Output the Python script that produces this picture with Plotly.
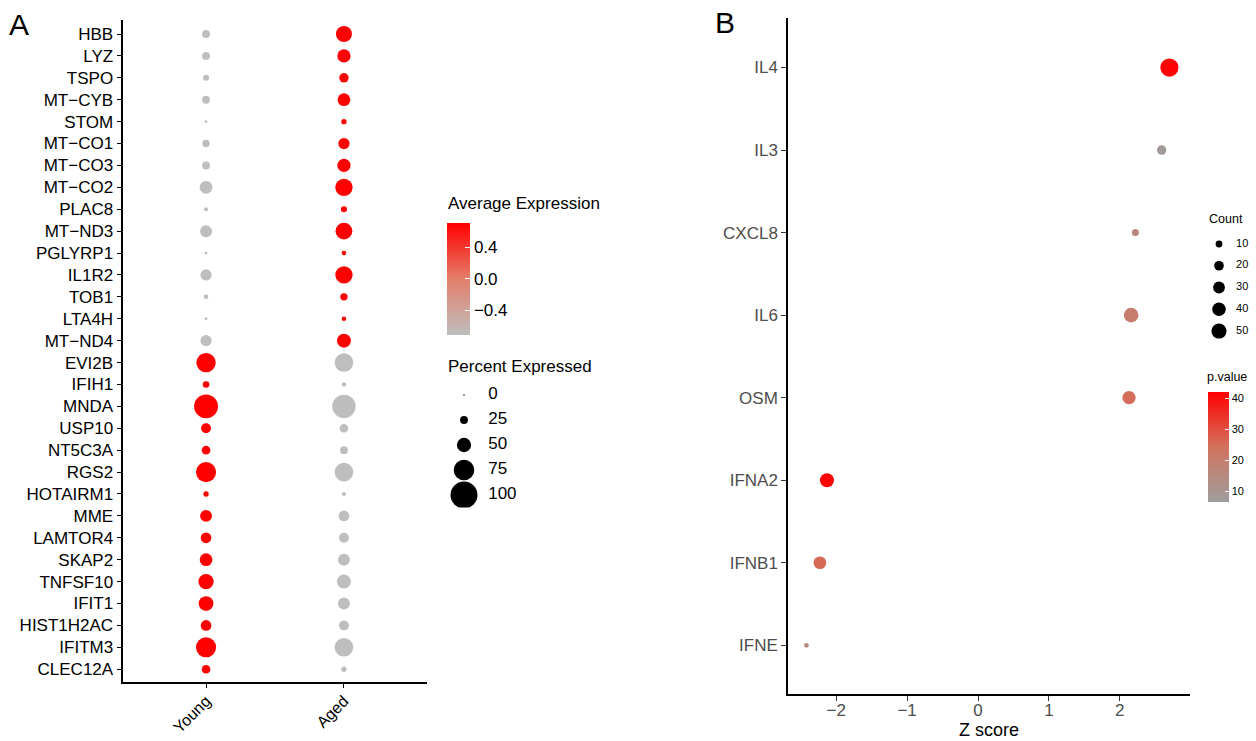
import plotly.graph_objects as go

# ---------------- Panel A data ----------------
genes = ["HBB", "LYZ", "TSPO", "MT\u2212CYB", "STOM", "MT\u2212CO1", "MT\u2212CO3", "MT\u2212CO2",
         "PLAC8", "MT\u2212ND3", "PGLYRP1", "IL1R2", "TOB1", "LTA4H", "MT\u2212ND4",
         "EVI2B", "IFIH1", "MNDA", "USP10", "NT5C3A", "RGS2", "HOTAIRM1", "MME",
         "LAMTOR4", "SKAP2", "TNFSF10", "IFIT1", "HIST1H2AC", "IFITM3", "CLEC12A"]
groups = ["Young", "Aged"]
pct_young = [25, 25, 18, 25, 5, 23, 25, 44, 10, 41, 5, 38, 12, 5, 38,
             70, 20, 88, 33, 28, 73, 15, 41, 36, 44, 54, 52, 36, 73, 28]
pct_aged = [57, 46, 31, 44, 15, 38, 46, 62, 18, 60, 12, 62, 23, 12, 49,
            67, 12, 86, 28, 25, 67, 10, 36, 33, 41, 49, 41, 33, 67, 15]
avg_young = [-0.707, -0.707, -0.707, -0.707, -0.707, -0.707, -0.707, -0.707, -0.707, -0.707,
             -0.707, -0.707, -0.707, -0.707, -0.707,
             0.707, 0.707, 0.707, 0.707, 0.707, 0.707, 0.707, 0.707, 0.707, 0.707,
             0.707, 0.707, 0.707, 0.707, 0.707]
avg_aged = [0.707, 0.707, 0.707, 0.707, 0.707, 0.707, 0.707, 0.707, 0.707, 0.707,
            0.707, 0.707, 0.707, 0.707, 0.707,
            -0.707, -0.707, -0.707, -0.707, -0.707, -0.707, -0.707, -0.707, -0.707, -0.707,
            -0.707, -0.707, -0.707, -0.707, -0.707]
pct_legend = [0, 25, 50, 75, 100]
avg_ticks = [-0.4, 0.0, 0.4]
avg_ticktext = ["\u22120.4", "0.0", "0.4"]

# ---------------- Panel B data ----------------
pathways = ["IL4", "IL3", "CXCL8", "IL6", "OSM", "IFNA2", "IFNB1", "IFNE"]
zscore = [2.70, 2.59, 2.22, 2.16, 2.13, -2.13, -2.23, -2.42]
count = [72, 19, 11, 46, 38, 42, 35, 5]
pvalue = [41.5, 8, 16, 20, 25, 41, 26, 15]
count_legend = [10, 20, 30, 40, 50]
p_ticks = [10, 20, 30, 40]
z_ticks = [-2, -1, 0, 1, 2]

W, H = 1256, 741
FONT = "Liberation Sans, Arial, sans-serif"


def pct_size(p):
    return 1.5 + 0.255 * p


def count_size(c):
    return 2.15 * c ** 0.5


def px(x):
    return x / W


def py(y):
    return 1 - y / H


scale_a = [[0, "#BEBEBE"], [0.5, "#E47E6A"], [1, "#FF0000"]]
scale_b = [[0, "#9E9E9E"], [0.5, "#D2735E"], [1, "#FF0000"]]

fig = go.Figure()

# Panel A dots
for g, pcts, avgs in [("Young", pct_young, avg_young), ("Aged", pct_aged, avg_aged)]:
    fig.add_trace(go.Scatter(
        x=[g] * len(genes), y=genes, mode="markers", xaxis="x", yaxis="y",
        showlegend=False, hoverinfo="skip",
        marker=dict(size=[pct_size(p) for p in pcts], sizemode="diameter", opacity=1,
                    color=avgs, colorscale=scale_a, cmin=-0.707, cmax=0.707,
                    line=dict(width=0),
                    showscale=(g == "Young"),
                    colorbar=dict(x=px(447), xanchor="left", y=py(222.7), yanchor="top",
                                  lenmode="pixels", len=112, thicknessmode="pixels",
                                  thickness=23, xpad=0, ypad=0, outlinewidth=0,
                                  tickvals=avg_ticks, ticktext=avg_ticktext,
                                  ticks="inside", ticklen=5, tickcolor="white",
                                  tickfont=dict(size=17, color="black", family=FONT))),
    ))

# Percent expressed legend
fig.add_trace(go.Scatter(
    x=[0] * len(pct_legend), y=[str(v) for v in pct_legend], mode="markers",
    xaxis="x3", yaxis="y3", showlegend=False, hoverinfo="skip",
    marker=dict(size=[pct_size(p) for p in pct_legend], sizemode="diameter", opacity=1,
                color="black", line=dict(width=0))))
fig.add_trace(go.Scatter(
    x=[0.93] * len(pct_legend), y=[str(v) for v in pct_legend], mode="text",
    text=[str(v) for v in pct_legend], textposition="middle right",
    textfont=dict(size=17, color="black", family=FONT),
    xaxis="x3", yaxis="y3", showlegend=False, hoverinfo="skip"))

# Panel B dots
fig.add_trace(go.Scatter(
    x=zscore, y=pathways, mode="markers", xaxis="x2", yaxis="y2",
    showlegend=False, hoverinfo="skip",
    marker=dict(size=[count_size(c) for c in count], sizemode="diameter", opacity=1,
                color=pvalue, colorscale=scale_b, cmin=6.5, cmax=42,
                line=dict(width=0), showscale=True,
                colorbar=dict(x=px(1208), xanchor="left", y=py(392), yanchor="top",
                              lenmode="pixels", len=110, thicknessmode="pixels",
                              thickness=21, xpad=0, ypad=0, outlinewidth=0,
                              tickvals=p_ticks, ticks="inside", ticklen=4,
                              tickcolor="white",
                              tickfont=dict(size=11, color="black", family=FONT))),
))

# Count legend
fig.add_trace(go.Scatter(
    x=[0] * len(count_legend), y=[str(v) for v in count_legend], mode="markers",
    xaxis="x4", yaxis="y4", showlegend=False, hoverinfo="skip",
    marker=dict(size=[count_size(c) for c in count_legend], sizemode="diameter", opacity=1,
                color="black", line=dict(width=0))))
fig.add_trace(go.Scatter(
    x=[0.9] * len(count_legend), y=[str(v) for v in count_legend], mode="text",
    text=[str(v) for v in count_legend], textposition="middle right",
    textfont=dict(size=11, color="black", family=FONT),
    xaxis="x4", yaxis="y4", showlegend=False, hoverinfo="skip"))

hidden = dict(visible=False, showgrid=False, zeroline=False)

fig.update_layout(
    width=W, height=H, margin=dict(l=0, r=0, t=0, b=0, autoexpand=False),
    paper_bgcolor="white", plot_bgcolor="white",
    font=dict(family=FONT, color="black"),
    xaxis=dict(domain=[px(123.3), px(426.7)], type="category", categoryorder="array",
               categoryarray=groups, range=[-0.6, 1.6], showline=True, linecolor="black",
               linewidth=1.5, ticks="outside", ticklen=5, tickcolor="black",
               tickangle=-45, tickfont=dict(size=16, color="black"), automargin=False,
               ticklabelstandoff=-3,
               showgrid=False, zeroline=False, anchor="y"),
    yaxis=dict(domain=[py(681.7), py(20)], type="category", categoryorder="array",
               categoryarray=genes, range=[29.57, -0.64], showline=True,
               linecolor="black", linewidth=1.5, ticks="outside", ticklen=5,
               tickcolor="black", tickfont=dict(size=17, color="black"), automargin=False,
               showgrid=False, zeroline=False, anchor="x"),
    xaxis2=dict(domain=[px(788), px(1190)], range=[-2.68, 2.99], tickvals=z_ticks,
                showline=True, linecolor="black", linewidth=1.5, ticks="outside",
                ticklen=5, tickcolor="#333333", automargin=False,
                ticklabelstandoff=-5,
                tickfont=dict(size=17, color="#4D4D4D"),
                title=dict(text="Z score", font=dict(size=18, color="black"), standoff=4),
                showgrid=False, zeroline=False, anchor="y2"),
    yaxis2=dict(domain=[py(694), py(18)], type="category", categoryorder="array",
                categoryarray=pathways, range=[7.59, -0.6], showline=True,
                linecolor="black", linewidth=1.5, ticks="outside", ticklen=5,
                tickcolor="#333333", tickfont=dict(size=17, color="#4D4D4D"),
                automargin=False, showgrid=False, zeroline=False, anchor="x2"),
    xaxis3=dict(domain=[px(447), px(540)], range=[-0.654, 2.923], anchor="y3", **hidden),
    yaxis3=dict(domain=[py(507.5), py(382.5)], type="category", categoryorder="array",
                categoryarray=[str(v) for v in pct_legend], range=[4.5, -0.5],
                anchor="x3", **hidden),
    xaxis4=dict(domain=[px(1205), px(1256)], range=[-0.737, 1.947], anchor="y4", **hidden),
    yaxis4=dict(domain=[py(341.9), py(233.1)], type="category", categoryorder="array",
                categoryarray=[str(v) for v in count_legend], range=[4.5, -0.5],
                anchor="x4", **hidden),
    annotations=[
        dict(text="A", x=px(7), y=py(25), xref="paper", yref="paper", xanchor="left",
             yanchor="middle", showarrow=False, font=dict(size=30, color="black")),
        dict(text="B", x=px(713), y=py(23), xref="paper", yref="paper", xanchor="left",
             yanchor="middle", showarrow=False, font=dict(size=30, color="black")),
        dict(text="Average Expression", x=px(446), y=py(204), xref="paper", yref="paper",
             xanchor="left", yanchor="middle", showarrow=False,
             font=dict(size=17, color="black")),
        dict(text="Percent Expressed", x=px(446), y=py(366), xref="paper", yref="paper",
             xanchor="left", yanchor="middle", showarrow=False,
             font=dict(size=17, color="black")),
        dict(text="Count", x=px(1207), y=py(219), xref="paper", yref="paper",
             xanchor="left", yanchor="middle", showarrow=False,
             font=dict(size=12.5, color="black")),
        dict(text="p.value", x=px(1205), y=py(377), xref="paper", yref="paper",
             xanchor="left", yanchor="middle", showarrow=False,
             font=dict(size=12.5, color="black")),
    ],
)

fig.write_html("out.html", config={"displayModeBar": False},
               post_script="document.body.style.margin='0';document.body.style.overflow='hidden';")
